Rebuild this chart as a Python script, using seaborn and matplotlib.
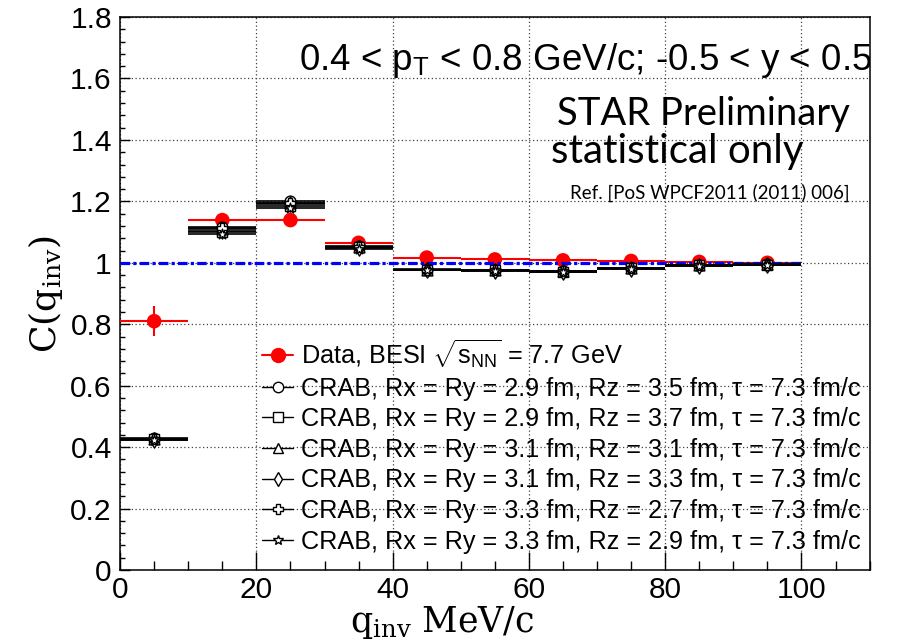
import matplotlib
matplotlib.use("Agg")
import numpy as np
import pandas as pd
import matplotlib.pyplot as plt
from matplotlib.lines import Line2D
from matplotlib.ticker import MultipleLocator
import seaborn as sns

# bin centres of q_inv (MeV/c), each bin is 10 MeV/c wide
q_inv = [5, 15, 25, 35, 45, 55, 65, 75, 85, 95]
q_half = 5

# STAR data, BES-I 7.7 GeV
data_c = [0.810, 1.139, 1.139, 1.065, 1.017, 1.011, 1.008, 1.006, 1.003, 1.000]
data_err = [0.048, 0.008, 0.006, 0.004, 0.003, 0.003, 0.003, 0.002, 0.002, 0.002]

# CRAB calculations
crab_29_35 = [0.430, 1.115, 1.200, 1.055, 0.980, 0.978, 0.974, 0.984, 0.993, 0.995]
crab_29_37 = [0.425, 1.100, 1.185, 1.050, 0.976, 0.975, 0.971, 0.982, 0.992, 0.994]
crab_31_31 = [0.428, 1.110, 1.195, 1.052, 0.978, 0.976, 0.972, 0.983, 0.993, 0.995]
crab_31_33 = [0.424, 1.105, 1.190, 1.048, 0.977, 0.974, 0.970, 0.981, 0.991, 0.994]
crab_33_27 = [0.427, 1.112, 1.195, 1.050, 0.977, 0.975, 0.972, 0.982, 0.992, 0.994]
crab_33_29 = [0.422, 1.095, 1.180, 1.045, 0.975, 0.973, 0.969, 0.980, 0.990, 0.993]

crab_labels = [
    "CRAB, Rx = Ry = 2.9 fm, Rz = 3.5 fm, \u03c4 = 7.3 fm/c",
    "CRAB, Rx = Ry = 2.9 fm, Rz = 3.7 fm, \u03c4 = 7.3 fm/c",
    "CRAB, Rx = Ry = 3.1 fm, Rz = 3.1 fm, \u03c4 = 7.3 fm/c",
    "CRAB, Rx = Ry = 3.1 fm, Rz = 3.3 fm, \u03c4 = 7.3 fm/c",
    "CRAB, Rx = Ry = 3.3 fm, Rz = 2.7 fm, \u03c4 = 7.3 fm/c",
    "CRAB, Rx = Ry = 3.3 fm, Rz = 2.9 fm, \u03c4 = 7.3 fm/c",
]
crab_series = [crab_29_35, crab_29_37, crab_31_31, crab_31_33, crab_33_27, crab_33_29]
crab_markers = ["o", "s", "^", "d", "P", "*"]

ref_level = 1.0

sns.set_theme(style="ticks")
plt.rcParams["font.family"] = ["Liberation Sans", "DejaVu Sans"]
plt.rcParams["text.color"] = "black"
plt.rcParams["axes.labelcolor"] = "black"
plt.rcParams["mathtext.fontset"] = "custom"
plt.rcParams["mathtext.rm"] = "DejaVu Serif"
plt.rcParams["mathtext.it"] = "DejaVu Serif:italic"
plt.rcParams["mathtext.sf"] = "Liberation Sans"

fig = plt.figure(figsize=(9.03, 6.43), dpi=100)
ax = fig.add_axes([0.133, 0.1135, 0.830, 0.860])

# data: error bars then markers
ax.errorbar(q_inv, data_c, xerr=q_half, yerr=data_err, fmt="none",
            ecolor="red", elinewidth=1.5, capsize=0, zorder=3)
sns.scatterplot(x=q_inv, y=data_c, color="red", s=110, edgecolor="none",
                ax=ax, zorder=4, legend=False)

# unity line
ax.hlines(ref_level, q_inv[0] - q_half, q_inv[-1] + q_half, colors="blue",
          linewidth=2.3, linestyles=(0, (3, 1, 1, 1)), zorder=5)

# CRAB
for vals, mk in zip(crab_series, crab_markers):
    ax.errorbar(q_inv, vals, xerr=q_half, fmt="none", ecolor="black",
                elinewidth=1.2, capsize=0, zorder=6)
    df = pd.DataFrame({"q": q_inv, "c": vals})
    sns.scatterplot(data=df, x="q", y="c", marker=mk, s=60, facecolor="white",
                    edgecolor="black", linewidth=1.0, ax=ax, zorder=7, legend=False)

ax.set_xlim(0, 110)
ax.set_ylim(0, 1.8)
ax.xaxis.set_major_locator(MultipleLocator(20))
ax.xaxis.set_minor_locator(MultipleLocator(5))
ax.yaxis.set_minor_locator(MultipleLocator(0.04))
ax.set_yticks(np.arange(0, 1.81, 0.2))
ax.set_yticklabels(["0", "0.2", "0.4", "0.6", "0.8", "1", "1.2", "1.4", "1.6", "1.8"])

ax.grid(True, which="major", color="0.25", linestyle=(0, (1, 2)), linewidth=0.9)
ax.tick_params(axis="both", which="both", direction="in", labelsize=21.5,
               colors="black", top=False, right=False)
ax.tick_params(axis="x", which="major", length=13, width=1, pad=4)
ax.tick_params(axis="x", which="minor", length=6.5, width=1)
ax.tick_params(axis="y", which="major", length=7, width=1, pad=6)
ax.tick_params(axis="y", which="minor", length=3.5, width=1)
for sp in ax.spines.values():
    sp.set_visible(True)
    sp.set_linewidth(1.1)
    sp.set_color("black")

ax.set_xlabel(r"$\mathrm{q_{inv}\ MeV/c}$", fontsize=25)
ax.xaxis.set_label_coords(0.43, -0.062)
ax.set_ylabel(r"$\mathrm{C(q_{inv})}$", fontsize=26)
ax.yaxis.set_label_coords(-0.074, 0.5)

ax.text(26.3, 1.628, r"0.4 < p$_\mathsf{T}$ < 0.8 GeV/c; -0.5 < y < 0.5",
        fontsize=26.5, va="baseline", ha="left", clip_on=True, zorder=8)
ax.text(64.1, 1.449, "STAR Preliminary", family="Lato", fontsize=27.5,
        va="baseline", ha="left", zorder=8)
ax.text(63.2, 1.325, "statistical only", family="Lato", fontsize=29,
        va="baseline", ha="left", zorder=8)
ax.text(66.1, 1.210, "Ref. [PoS WPCF2011 (2011) 006]", family="Lato", fontsize=13.5,
        va="baseline", ha="left", zorder=8)

handles = [Line2D([], [], color="red", marker="o", markersize=10, lw=1.5,
                  markeredgecolor="red")]
for mk in crab_markers:
    handles.append(Line2D([], [], color="black", marker=mk, markersize=7.5, lw=1,
                          markerfacecolor="white", markeredgecolor="black"))
labels = [r"Data, BESI $\sqrt{\mathsf{s}_\mathsf{NN}}$ = 7.7 GeV"] + crab_labels
ax.legend(handles, labels, loc="upper left", bbox_to_anchor=(0.189, 0.42),
          frameon=False, fontsize=18.2, handlelength=1.25, handletextpad=0.3,
          labelspacing=0.26, borderpad=0, borderaxespad=0, numpoints=1)

fig.savefig("out.png", dpi=100)
